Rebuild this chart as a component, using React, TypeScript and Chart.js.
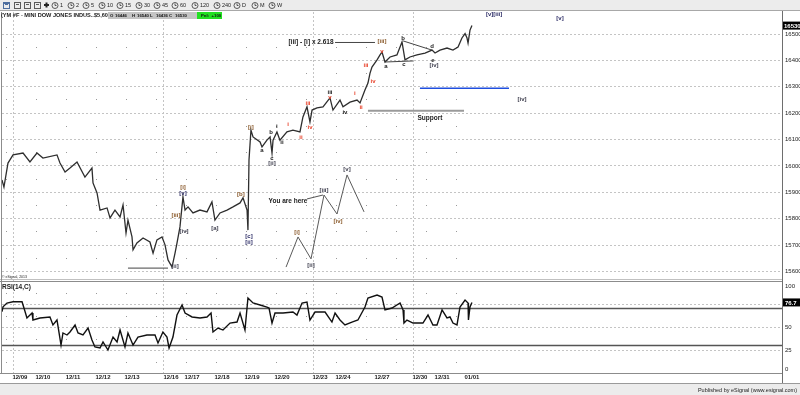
import React, { useEffect, useRef } from "react";
import { Chart, registerables } from "chart.js";
Chart.register(...registerables);

const FONT = '"Liberation Sans", Arial, sans-serif';

// ---- data (x = hourly bar index, y = price) ----
const priceBars = [0, 1.5, 4.6, 8.5, 16.2, 21.5, 26.9, 31.5, 42.3, 44.6, 48.5, 52.3, 57.7, 63.8, 69.2, 70, 73.1, 75.4, 80.8, 83.1, 86.9, 90.8, 93.1, 95.4, 96.9, 100, 100.8, 103.8, 108.5, 113.8, 116.2, 119.2, 123.1, 125.4, 127.7, 130.8, 133.1, 134.6, 136.9, 139.2, 140.8, 143.1, 146.9, 152.3, 157.7, 161.5, 163.8, 167.7, 173.1, 177.7, 183.1, 185.4, 188.5, 189.2, 190, 191.5, 193.1, 198.5, 200, 203.8, 206.2, 207.7, 208.5, 211.5, 213.8, 219.2, 223.8, 229.2, 231.5, 234.6, 236.9, 238.5, 242.3, 246.9, 252.3, 254.6, 260, 262.3, 267.7, 273.1, 275.4, 279.2, 281.5, 283.1, 284.6, 288.5, 290.8, 292.3, 294.6, 298.5, 303.8, 307.7, 310, 313.8, 319.2, 325.4, 330.8, 333.1, 336.9, 342.3, 346.9, 350.8, 353.8, 356.2, 357.7, 358.5, 360, 361.5];
const priceClose = [15945, 15918, 16009, 16040, 16047, 16013, 16047, 16028, 16040, 16009, 15975, 15990, 16013, 15956, 15990, 15934, 15896, 15831, 15839, 15801, 15831, 15805, 15850, 15744, 15793, 15729, 15680, 15706, 15725, 15710, 15668, 15718, 15729, 15699, 15642, 15615, 15668, 15706, 15767, 15881, 15831, 15843, 15820, 15831, 15824, 15862, 15793, 15820, 15831, 15843, 15858, 15877, 15831, 15755, 16021, 16134, 16108, 16089, 16070, 16096, 16108, 16047, 16096, 16127, 16096, 16127, 16134, 16127, 16184, 16222, 16165, 16210, 16218, 16222, 16256, 16210, 16248, 16222, 16240, 16248, 16237, 16286, 16312, 16350, 16373, 16400, 16419, 16430, 16392, 16411, 16419, 16468, 16400, 16411, 16419, 16426, 16437, 16426, 16437, 16445, 16437, 16449, 16483, 16500, 16483, 16464, 16513, 16530];

const rsiBars = [0, 0.8, 3.8, 8.5, 15.4, 16.9, 19.2, 23.1, 23.8, 29.2, 36.9, 39.2, 42.3, 45.4, 46.9, 50, 52.3, 56.2, 58.5, 62.3, 66.2, 69.2, 71.5, 75.4, 77.7, 81.5, 85.4, 88.5, 90.8, 94.6, 96.9, 100.8, 104.6, 111.5, 117.7, 120, 123.8, 126.9, 128.5, 131.5, 134.6, 138.5, 140.8, 146.2, 152.3, 157.7, 160.8, 162.3, 166.2, 170, 175.4, 180.8, 183.1, 186.9, 189.2, 193.1, 198.5, 203.8, 205.4, 207.7, 210, 216.2, 223.8, 226.9, 230.8, 234.6, 236.9, 240.8, 248.5, 253.8, 256.2, 260, 263.8, 269.2, 273.8, 279.2, 281.5, 288.5, 292.3, 294.6, 300, 306.2, 308.5, 309.2, 311.5, 316.2, 323.8, 327.7, 331.5, 334.6, 338.5, 342.3, 344.6, 346.9, 350, 352.3, 356.2, 358.5, 358.8, 360, 361.5];
const rsiValues = [66.6, 72, 76, 77.5, 77.5, 70.6, 59.8, 65.2, 57.6, 59.8, 60.9, 52.2, 57.6, 30.4, 43.5, 41.3, 44.6, 52.2, 43.5, 41.3, 48.9, 35.9, 28.3, 27.2, 33.7, 25, 39.1, 33.7, 46.7, 28.3, 43.5, 30.4, 39.1, 41.3, 41.3, 32.6, 44.6, 39.1, 27.2, 39.1, 63, 73.9, 65.2, 60.9, 59.8, 60.9, 65.2, 44.6, 48.9, 46.7, 54.3, 55.4, 65.2, 46.7, 81.5, 76.1, 73.9, 71.7, 70.6, 54.3, 65.2, 65.2, 66.3, 63, 76.1, 77.2, 57.6, 66.3, 66.3, 55.4, 65.2, 57.6, 52.2, 55.4, 57.6, 71.7, 81.5, 84.8, 82.6, 68.5, 70.6, 76.1, 68.5, 54.3, 57.6, 54.3, 54.3, 63, 52.2, 52.2, 68.5, 59.8, 60.9, 54.3, 52.2, 71.7, 79.3, 76.1, 57.6, 71.7, 76.7];

const priceTicks = [16500, 16400, 16300, 16200, 16100, 16000, 15900, 15800, 15700, 15600];
const priceDots = [16550, 16450, 16350, 16250, 16150, 16050, 15950, 15850, 15750, 15650];
const rsiGrid = [75, 50, 25];
const rsiBands = [70, 30];
const rsiDots = [87.5, 62.5, 37.5, 12.5];
const rsiAxisLabels = [100, 50, 25, 0];
const dateLabels = ["12/09", "12/10", "12/11", "12/12", "12/13", "12/16", "12/17", "12/18", "12/19", "12/20", "12/23", "12/24", "12/27", "12/30", "12/31", "01/01"];
const dateBars = [13.8, 31.5, 54.6, 77.7, 100, 130, 146.2, 169.2, 192.3, 215.4, 244.6, 262.3, 292.3, 321.5, 338.5, 361.5];
const weekBars = [8.5, 123.8, 239.2, 316.2];
const lastPrice = 16530;
const lastRsi = 76.7;

// schematic Elliott wave sketch
const sketchBars = [218.5, 227.7, 237.7, 247.7, 257.7, 265.4, 278.5];
const sketchPrices = [15615, 15729, 15646, 15888, 15816, 15964, 15824];

// drawn study lines [x1, p1, x2, p2]
const supportLine = [281.5, 16207, 355.4, 16207];
const blueLine = [321.5, 16293, 390, 16293];
const lowLine = [96.9, 15611, 127.7, 15611];
const fibLine = [256.2, 16466, 286.9, 16466];
const triTop = [308.5, 16472, 330.8, 16437];
const triBottom = [294.6, 16392, 316.2, 16396];
const pointerLine = [234.6, 15873, 246.9, 15888];

// wave labels: x bar, price, text, colour key
const labelBars = [139.2, 139.2, 133.8, 140, 163.8, 183.8, 190, 190, 133.1, 191.5, 200, 206.9, 207.7, 207.7, 211.5, 215.4, 220, 230, 235.4, 236.9, 252.3, 252.3, 263.8, 271.5, 276.2, 280, 285.4, 292.3, 292.3, 295.4, 308.5, 309.2, 330.8, 331.5, 332.3, 378.5, 429.2, 400, 226.9, 237.7, 247.7, 258.5, 265.4];
const labelPrices = [15918, 15896, 15812, 15752, 15763, 15892, 15733, 15710, 15619, 16146, 16059, 16127, 16028, 16009, 16150, 16089, 16157, 16108, 16237, 16146, 16278, 16259, 16203, 16275, 16222, 16381, 16320, 16472, 16434, 16377, 16483, 16384, 16453, 16400, 16381, 16574, 16559, 16252, 15748, 15623, 15907, 15790, 15987];
const labelTexts = ["[i]", "[v]", "[iii]", "[iv]", "[a]", "[b]", "[c]", "[ii]", "[ii]", "[i]", "a", "b", "c", "[ii]", "i", "ii", "i", "ii", "iii", "iv", "iii", "v", "iv", "i", "ii", "iii", "iv", "[iii]", "v", "a", "b", "c", "d", "e", "[iv]", "[v][iii]", "[v]", "[iv]", "[i]", "[ii]", "[iii]", "[iv]", "[v]"];
const labelKinds = ["br", "nv", "br", "dk", "dk", "br", "nv", "nv", "dk", "br", "bk", "bk", "bk", "dk", "bk", "bk", "rd", "rd", "rd", "rd", "bk", "rd", "bk", "rd", "rd", "rd", "rd", "br", "rd", "bk", "bk", "bk", "bk", "bk", "dk", "nv", "nv", "dk", "br", "dk", "dk", "br", "dk"];

const textNotes = [
  { x: 237.7, p: 16468, t: "[iii] - [i] x 2.618" },
  { x: 220, p: 15865, t: "You are here" },
  { x: 329.2, p: 16180, t: "Support" },
];

const toolbarLabels = ["1", "2", "5", "10", "15", "30", "45", "60", "120", "240", "D", "M", "W"];
const quoteLabels = ["O", "16446", "H", "16540", "L", "16436", "C", "16530"];

const colours: Record<string, string> = {
  br: "#8a5a2b",
  nv: "#2c2c66",
  dk: "#3c3c4c",
  bk: "#222222",
  rd: "#e8412a",
};

const seg = (a: number[]) => [
  { x: a[0], y: a[1] },
  { x: a[2], y: a[3] },
];

export default function App() {
  const ref = useRef<HTMLCanvasElement | null>(null);

  useEffect(() => {
    const canvas = ref.current;
    if (!canvas) return;

    const chromePlugin = {
      id: "chrome",
      beforeDraw(chart: any) {
        const { ctx, width, height } = chart;
        ctx.save();
        ctx.fillStyle = "#ffffff";
        ctx.fillRect(0, 0, width, height);
        ctx.restore();
      },
      beforeDatasetsDraw(chart: any) {
        const { ctx, chartArea } = chart;
        const xs = chart.scales.x;
        const ys = chart.scales.y;
        const rs = chart.scales.rsi;
        const L = chartArea.left;
        const R = chartArea.right;
        ctx.save();
        ctx.strokeStyle = "#c4c4c4";
        ctx.lineWidth = 1;
        ctx.setLineDash([2, 2]);
        priceTicks.forEach((p) => {
          const y = Math.round(ys.getPixelForValue(p)) + 0.5;
          ctx.beginPath();
          ctx.moveTo(L, y);
          ctx.lineTo(R, y);
          ctx.stroke();
        });
        rsiGrid.forEach((v) => {
          const y = Math.round(rs.getPixelForValue(v)) + 0.5;
          ctx.beginPath();
          ctx.moveTo(L, y);
          ctx.lineTo(R, y);
          ctx.stroke();
        });
        const mainTop = chartArea.top;
        const sep = rs.getPixelForValue(100);
        weekBars.forEach((b) => {
          const x = Math.round(xs.getPixelForValue(b)) + 0.5;
          ctx.beginPath();
          ctx.moveTo(x, mainTop);
          ctx.lineTo(x, chartArea.bottom);
          ctx.stroke();
        });
        ctx.setLineDash([]);
        ctx.fillStyle = "#9a9a9a";
        for (let b = 3; b < 480 / 1.3; b += 23.08) {
          const x = Math.round(xs.getPixelForValue(b));
          priceDots.forEach((p) => {
            const y = Math.round(ys.getPixelForValue(p));
            if (y > mainTop + 8 && y < sep - 2) ctx.fillRect(x, y, 1, 1);
          });
          rsiDots.forEach((v) => {
            const y = Math.round(rs.getPixelForValue(v));
            ctx.fillRect(x, y, 1, 1);
          });
        }
        ctx.strokeStyle = "#555555";
        ctx.lineWidth = 1.5;
        rsiBands.forEach((v) => {
          const y = rs.getPixelForValue(v);
          ctx.beginPath();
          ctx.moveTo(L, y);
          ctx.lineTo(R, y);
          ctx.stroke();
        });
        ctx.restore();
      },
      afterDatasetsDraw(chart: any) {
        const { ctx, chartArea, width, height } = chart;
        const xs = chart.scales.x;
        const ys = chart.scales.y;
        const rs = chart.scales.rsi;
        const R = chartArea.right;
        const sep = rs.getPixelForValue(100);
        ctx.save();

        // wave labels
        ctx.textAlign = "center";
        ctx.textBaseline = "middle";
        ctx.font = `bold 6px ${FONT}`;
        labelTexts.forEach((t, i) => {
          ctx.fillStyle = colours[labelKinds[i]];
          ctx.fillText(t, xs.getPixelForValue(labelBars[i]), ys.getPixelForValue(labelPrices[i]));
        });
        ctx.fillStyle = "#222";
        ctx.font = `bold 6.5px ${FONT}`;
        textNotes.forEach((n) => {
          ctx.fillText(n.t, xs.getPixelForValue(n.x), ys.getPixelForValue(n.p));
        });

        // frames
        ctx.lineWidth = 1;
        ctx.strokeStyle = "#8c8c8c";
        ctx.beginPath();
        ctx.moveTo(0, Math.round(sep) + 0.5);
        ctx.lineTo(R, Math.round(sep) + 0.5);
        ctx.stroke();
        ctx.strokeStyle = "#c0c0c0";
        ctx.beginPath();
        ctx.moveTo(0, Math.round(sep) - 1.5);
        ctx.lineTo(R, Math.round(sep) - 1.5);
        ctx.stroke();
        ctx.strokeStyle = "#8c8c8c";
        ctx.beginPath();
        ctx.moveTo(0, chartArea.bottom + 0.5);
        ctx.lineTo(R, chartArea.bottom + 0.5);
        ctx.stroke();
        ctx.beginPath();
        ctx.moveTo(1.5, chartArea.top);
        ctx.lineTo(1.5, chartArea.bottom);
        ctx.stroke();
        ctx.strokeStyle = "#6e6e6e";
        ctx.beginPath();
        ctx.moveTo(R + 0.5, chartArea.top - 1);
        ctx.lineTo(R + 0.5, height - 12);
        ctx.stroke();

        // price axis labels
        ctx.textAlign = "left";
        ctx.font = `6px ${FONT}`;
        ctx.fillStyle = "#222";
        priceTicks.forEach((p) => {
          ctx.fillText(String(p), R + 3, ys.getPixelForValue(p) + 0.5);
        });
        const lp = ys.getPixelForValue(lastPrice);
        ctx.fillStyle = "#000";
        ctx.fillRect(R + 1, lp - 4, width - R - 1, 8);
        ctx.fillStyle = "#fff";
        ctx.font = `bold 6px ${FONT}`;
        ctx.fillText(String(lastPrice), R + 2, lp + 0.5);

        // RSI axis labels
        ctx.font = `6px ${FONT}`;
        ctx.fillStyle = "#222";
        rsiAxisLabels.forEach((v) => {
          let y = rs.getPixelForValue(v);
          if (v === 100) y += 5;
          if (v === 0) y -= 4;
          ctx.fillText(String(v), R + 3, y);
        });
        const lr = rs.getPixelForValue(lastRsi);
        ctx.fillStyle = "#000";
        ctx.fillRect(R + 1, lr - 4, width - R - 1, 8);
        ctx.fillStyle = "#fff";
        ctx.font = `bold 6px ${FONT}`;
        ctx.fillText(lastRsi.toFixed(1), R + 3, lr + 0.5);

        // date labels
        ctx.textAlign = "center";
        ctx.fillStyle = "#222";
        ctx.font = `bold 6px ${FONT}`;
        dateLabels.forEach((d, i) => {
          ctx.fillText(d, xs.getPixelForValue(dateBars[i]), chartArea.bottom + 4.5);
        });

        // panel titles
        ctx.textAlign = "left";
        ctx.font = `bold 6.5px ${FONT}`;
        ctx.fillStyle = "#222";
        ctx.fillText("RSI(14,C)", 2, sep + 6);
        ctx.font = `3.5px ${FONT}`;
        ctx.fillText("© eSignal, 2013", 2, sep - 4);

        // title line
        ctx.font = `bold 5.6px ${FONT}`;
        ctx.fillStyle = "#1a1a1a";
        ctx.fillText("(YM #F - MINI DOW JONES INDUS..$5,60)", 1, 15.5);
        ctx.fillStyle = "#c4c4c4";
        ctx.fillRect(108, 12, 89, 7);
        ctx.fillStyle = "#22e022";
        ctx.fillRect(197, 12, 25, 7);
        ctx.fillStyle = "#111";
        ctx.font = `bold 4.3px ${FONT}`;
        const qx = [110, 115, 132, 137, 150, 156, 169, 175];
        quoteLabels.forEach((q, i) => ctx.fillText(q, qx[i], 15.6));
        ctx.fillText("Pnl:  +100", 201, 15.6);

        // toolbar
        ctx.fillStyle = "#ececec";
        ctx.fillRect(0, 0, width, 10);
        ctx.strokeStyle = "#a8a8a8";
        ctx.lineWidth = 1;
        ctx.beginPath();
        ctx.moveTo(0, 10.5);
        ctx.lineTo(width, 10.5);
        ctx.stroke();
        const iconCols = ["#4f6f9f", "#5a5a5a", "#5a5a5a", "#5a5a5a", "#222"];
        [3, 14, 24, 34, 43].forEach((x, i) => {
          ctx.strokeStyle = iconCols[i];
          ctx.fillStyle = iconCols[i];
          if (i === 4) {
            ctx.fillRect(x + 1, 4, 5, 2);
            ctx.fillRect(x + 2.5, 2.5, 2, 5);
          } else {
            ctx.strokeRect(x + 0.5, 2.5, 6, 6);
            ctx.fillRect(x + 2, 4, 3, 1);
            if (i === 0) ctx.fillRect(x + 1, 2, 5, 2);
          }
        });
        const clockX = [55, 71, 86, 102, 120, 139, 157, 175, 195, 217, 237, 255, 272];
        ctx.font = `5.5px ${FONT}`;
        clockX.forEach((cx, i) => {
          ctx.strokeStyle = "#333";
          ctx.lineWidth = 0.8;
          ctx.beginPath();
          ctx.arc(cx, 5.5, 3, 0, Math.PI * 2);
          ctx.stroke();
          ctx.beginPath();
          ctx.moveTo(cx, 5.5);
          ctx.lineTo(cx, 3.5);
          ctx.moveTo(cx, 5.5);
          ctx.lineTo(cx + 1.5, 5.5);
          ctx.stroke();
          ctx.fillStyle = "#222";
          ctx.fillText(toolbarLabels[i], cx + 5, 5.8);
        });

        // status bar
        ctx.fillStyle = "#ececec";
        ctx.fillRect(0, height - 12, width, 12);
        ctx.strokeStyle = "#9a9a9a";
        ctx.lineWidth = 1;
        ctx.beginPath();
        ctx.moveTo(0, height - 11.5);
        ctx.lineTo(width, height - 11.5);
        ctx.stroke();
        ctx.textAlign = "right";
        ctx.font = `5.5px ${FONT}`;
        ctx.fillStyle = "#222";
        ctx.fillText("Published by eSignal (www.esignal.com)", width - 3, height - 5);
        ctx.restore();
      },
    };

    const lineDs = (data: any[], color: string, w: number, axis = "y") => ({
      data,
      borderColor: color,
      borderWidth: w,
      pointRadius: 0,
      tension: 0,
      fill: false,
      yAxisID: axis,
    });

    const chart = new Chart(canvas, {
      type: "line",
      data: {
        datasets: [
          lineDs(priceBars.map((x, i) => ({ x, y: priceClose[i] })), "#2e2e2e", 1.3),
          lineDs(rsiBars.map((x, i) => ({ x, y: rsiValues[i] })), "#111111", 1.4, "rsi"),
          lineDs(sketchBars.map((x, i) => ({ x, y: sketchPrices[i] })), "#5a5a5a", 1),
          lineDs(seg(supportLine), "#9a9a9a", 2),
          lineDs(seg(blueLine), "#1f4fe0", 1.5),
          lineDs(seg(lowLine), "#444444", 1),
          lineDs(seg(fibLine), "#444444", 1),
          lineDs(seg(triTop), "#444444", 1),
          lineDs(seg(triBottom), "#444444", 1),
          lineDs(seg(pointerLine), "#555555", 1),
        ] as any,
      },
      options: {
        animation: false,
        responsive: false,
        devicePixelRatio: 1,
        events: [],
        layout: { padding: { left: 2, top: 12, right: 18, bottom: 22 } },
        plugins: { legend: { display: false }, tooltip: { enabled: false } },
        scales: {
          x: { type: "linear", axis: "x", min: 0, max: 600, display: false },
          y: { type: "linear", axis: "y", min: 15213.5, max: 16581.5, display: false },
          rsi: { type: "linear", axis: "y", min: 0, max: 392.4, display: false },
        },
      } as any,
      plugins: [chromePlugin],
    });
    return () => chart.destroy();
  }, []);

  return (
    <div style={{ position: "fixed", left: 0, top: 0, width: 800, height: 395 }}>
      <canvas ref={ref} width={800} height={395} style={{ display: "block", width: 800, height: 395 }} />
    </div>
  );
}
